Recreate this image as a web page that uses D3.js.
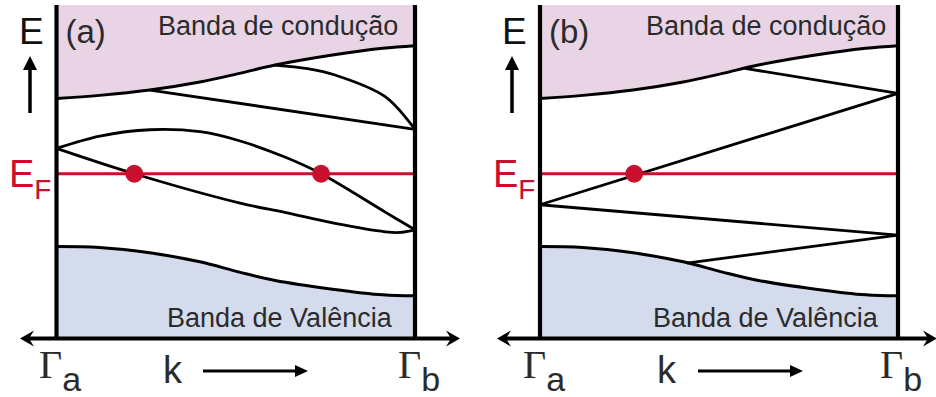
<!DOCTYPE html>
<html>
<head>
<meta charset="utf-8">
<script src="https://cdn.jsdelivr.net/npm/d3@7"></script>
<style>
  html, body { margin: 0; padding: 0; background: #fff; }
  svg { display: block; }
</style>
</head>
<body>
<svg id="chart" width="936" height="397"></svg>
<script>
// Band edges shared by both panels (k from Γa = 0 to Γb = 1, energy in arbitrary units)
const edgeK       = [0, 0.12, 0.26, 0.40, 0.51, 0.61, 0.77, 0.91, 1.0];
const conductionE = [72.0, 72.9, 74.5, 76.9, 79.5, 82.0, 85.0, 87.0, 87.8];
const valenceE    = [27.6, 27.3, 25.7, 23.0, 19.9, 17.4, 14.8, 13.1, 12.8];

const fermiLevel = 49.4;

// Panel (a): bands crossing the Fermi level twice
const bandsA = [
  { k: [0.261, 1.0], E: [74.5, 62.7] },
  { k: [0.609, 0.70, 0.777, 0.917, 1.0], E: [82.0, 80.9, 79.0, 72.5, 62.7] },
  { k: [0, 0.121, 0.261, 0.40, 0.51, 0.637, 0.738, 0.917, 1.0], E: [57.0, 60.7, 62.6, 62.0, 59.3, 54.4, 49.4, 37.9, 32.6] },
  { k: [0, 0.217, 0.512, 0.637, 0.777, 0.917, 0.958, 1.0], E: [57.0, 49.4, 40.6, 37.8, 34.5, 32.0, 31.8, 32.6] }
];
const crossingsA = [0.217, 0.738];

// Panel (b): bands crossing the Fermi level once
const bandsB = [
  { k: [0.572, 1.0], E: [81.0, 73.5] },
  { k: [0, 1.0], E: [40.1, 73.5] },
  { k: [0, 1.0], E: [40.1, 31.0] },
  { k: [0.41, 1.0], E: [22.6, 31.0] }
];
const crossingsB = [0.263];

const panelLabels = ["(a)", "(b)"];
const conductionLabel = "Banda de condução";
const valenceLabel = "Banda de Valência";

const RED = "#c8102e";
const INK = "#2b2b2b";
const SANS = "'Liberation Sans', Arial, Helvetica, sans-serif";
const SERIF = "'Liberation Serif', 'Times New Roman', serif";

const svg = d3.select("#chart");

const yScale = d3.scaleLinear().domain([0, 100]).range([338.5, 5]);
const smooth = d3.curveCatmullRom.alpha(0.5);

const panels = [
  { x0: 56.5, x1: 415, bands: bandsA, dots: crossingsA, label: panelLabels[0],
    axisFrom: 20, axisTo: 460, eX: 19, upX: 30, efX: 9,
    condX: 158, valX: 167, gammaA: 39, kX: 163, arrowFrom: 203, arrowTo: 308, gammaB: 398 },
  { x0: 540, x1: 898, bands: bandsB, dots: crossingsB, label: panelLabels[1],
    axisFrom: 497, axisTo: 937, eX: 502, upX: 512, efX: 493,
    condX: 646, valX: 653, gammaA: 523, kX: 657, arrowFrom: 698, arrowTo: 803, gammaB: 880 }
];

function toPoints(ks, es) { return ks.map((k, i) => [k, es[i]]); }

panels.forEach(p => {
  const g = svg.append("g");
  const xScale = d3.scaleLinear().domain([0, 1]).range([p.x0, p.x1]);

  const line = d3.line().x(d => xScale(d[0])).y(d => yScale(d[1])).curve(smooth);

  const condPts = toPoints(edgeK, conductionE);
  const valPts = toPoints(edgeK, valenceE);

  // conduction band fill
  g.append("path")
    .datum(condPts)
    .attr("d", d3.area().x(d => xScale(d[0])).y0(yScale(100)).y1(d => yScale(d[1])).curve(smooth))
    .attr("fill", "#e8d4e4");

  // valence band fill
  g.append("path")
    .datum(valPts)
    .attr("d", d3.area().x(d => xScale(d[0])).y0(yScale(0)).y1(d => yScale(d[1])).curve(smooth))
    .attr("fill", "#d3dbed");

  // band edges
  [condPts, valPts].forEach(pts => {
    g.append("path").datum(pts).attr("d", line)
      .attr("fill", "none").attr("stroke", "#000").attr("stroke-width", 3);
  });

  // bands in the gap
  p.bands.forEach(b => {
    g.append("path").datum(toPoints(b.k, b.E)).attr("d", line)
      .attr("fill", "none").attr("stroke", "#000").attr("stroke-width", 2.8)
      .attr("stroke-linejoin", "round");
  });

  // Fermi level
  g.append("line")
    .attr("x1", xScale(0)).attr("x2", xScale(1))
    .attr("y1", yScale(fermiLevel)).attr("y2", yScale(fermiLevel))
    .attr("stroke", RED).attr("stroke-width", 3.2);

  g.selectAll("circle.cross").data(p.dots).enter().append("circle")
    .attr("class", "cross")
    .attr("cx", d => xScale(d)).attr("cy", yScale(fermiLevel)).attr("r", 9)
    .attr("fill", RED);

  // zone boundaries Γa and Γb
  [0, 1].forEach(k => {
    g.append("line")
      .attr("x1", xScale(k)).attr("x2", xScale(k))
      .attr("y1", yScale(100)).attr("y2", yScale(0))
      .attr("stroke", "#000").attr("stroke-width", 4.2);
  });

  // k axis with arrowheads on both ends
  const ay = yScale(0);
  g.append("line")
    .attr("x1", p.axisFrom + 4).attr("x2", p.axisTo - 4)
    .attr("y1", ay).attr("y2", ay)
    .attr("stroke", "#000").attr("stroke-width", 4);
  const head = (tx, dir) => {
    const b = tx + dir * 14, n = tx + dir * 9;
    return `M${tx},${ay} L${b},${ay - 8} L${n},${ay} L${b},${ay + 8} Z`;
  };
  g.append("path").attr("d", head(p.axisFrom, 1)).attr("fill", "#000");
  g.append("path").attr("d", head(p.axisTo, -1)).attr("fill", "#000");

  // energy label and upward arrow
  g.append("text").attr("x", p.eX).attr("y", 44)
    .attr("font-family", SANS).attr("font-size", 37).attr("fill", "#111").text("E");
  g.append("line").attr("x1", p.upX).attr("x2", p.upX).attr("y1", 113).attr("y2", 66)
    .attr("stroke", "#000").attr("stroke-width", 3.5);
  g.append("path")
    .attr("d", `M${p.upX},56 L${p.upX - 7},70 L${p.upX + 7},70 Z`).attr("fill", "#000");

  // panel tag
  g.append("text").attr("x", p.x0 + 9).attr("y", 43)
    .attr("font-family", SANS).attr("font-size", 33).attr("fill", INK).text(p.label);

  // band names
  g.append("text").attr("x", p.condX).attr("y", 35)
    .attr("font-family", SANS).attr("font-size", 27).attr("fill", INK).text(conductionLabel);
  g.append("text").attr("x", p.valX).attr("y", 327)
    .attr("font-family", SANS).attr("font-size", 27).attr("fill", INK).text(valenceLabel);

  // Fermi level label
  const ef = g.append("text").attr("x", p.efX).attr("y", 187)
    .attr("font-family", SANS).attr("fill", RED);
  ef.append("tspan").attr("font-size", 38).text("E");
  ef.append("tspan").attr("font-size", 28).attr("dy", 12).text("F");

  // Γ points and k direction
  const ga = g.append("text").attr("x", p.gammaA).attr("y", 378).attr("fill", INK);
  ga.append("tspan").attr("font-family", SERIF).attr("font-size", 40).text("Γ");
  ga.append("tspan").attr("font-family", SANS).attr("font-size", 34).attr("dy", 13).text("a");

  const gb = g.append("text").attr("x", p.gammaB).attr("y", 378).attr("fill", INK);
  gb.append("tspan").attr("font-family", SERIF).attr("font-size", 40).text("Γ");
  gb.append("tspan").attr("font-family", SANS).attr("font-size", 34).attr("dy", 13).text("b");

  g.append("text").attr("x", p.kX).attr("y", 383)
    .attr("font-family", SANS).attr("font-size", 38).attr("fill", INK).text("k");

  g.append("line").attr("x1", p.arrowFrom).attr("x2", p.arrowTo - 10).attr("y1", 371).attr("y2", 371)
    .attr("stroke", "#000").attr("stroke-width", 3);
  g.append("path")
    .attr("d", `M${p.arrowTo},371 L${p.arrowTo - 13},365 L${p.arrowTo - 13},377 Z`).attr("fill", "#000");
});
</script>
</body>
</html>
